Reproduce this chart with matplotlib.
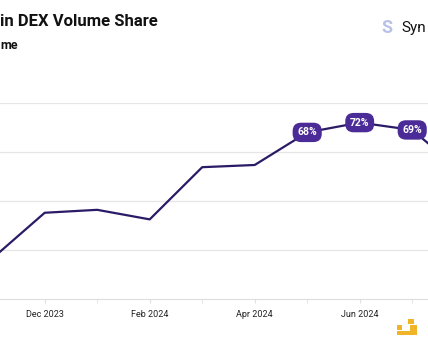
import matplotlib.pyplot as plt
from matplotlib.patches import Rectangle

# 月份與數值 (Nov 2023 - Aug 2024)
months = ['Nov 2023', 'Dec 2023', 'Jan 2024', 'Feb 2024', 'Mar 2024',
          'Apr 2024', 'May 2024', 'Jun 2024', 'Jul 2024', 'Aug 2024']
share = [16.5, 35.2, 36.4, 32.5, 53.8, 54.7, 68, 72, 69, 51]
labelled = ['May 2024', 'Jun 2024', 'Jul 2024']
tick_labels = ['Dec 2023', 'Feb 2024', 'Apr 2024', 'Jun 2024', 'Aug 2024']

plt.rcParams['font.family'] = ['Roboto', 'DejaVu Sans']

W, H = 428, 352
fig = plt.figure(figsize=(W / 100, H / 100), dpi=100)
ax = fig.add_axes([0, (H - 299) / H, 1, (299 - 103) / H])

x = list(range(len(months)))
ax.plot(x, share, color='#2b1b66', lw=1.6, zorder=3)

# 標籤框
for i, m in enumerate(months):
    if m in labelled:
        ax.text(i, share[i], f'{share[i]:.0f}%', ha='center', va='center',
                color='white', fontsize=7.5, fontweight='bold', zorder=4,
                bbox=dict(boxstyle='round,pad=0.45,rounding_size=0.8',
                          fc='#4a2b98', ec='none'))

ax.set_yticks([20, 40, 60, 80])
ax.yaxis.grid(True, color='#e6e6e6', lw=0.9)
ax.set_axisbelow(True)
ax.tick_params(axis='y', length=0, labelleft=False)

ax.set_xticks([months.index(t) for t in tick_labels])
ax.set_xticklabels(tick_labels, fontsize=6.5, color='#222222')
ax.set_xticks([i for i, m in enumerate(months) if m not in tick_labels], minor=True)
ax.tick_params(axis='x', which='both', length=3, color='#e0e0e0', pad=5)

# 設定範圍 (放在 set_xticks 之後)
ax.set_xlim(7.8 / 52.5, (W + 7.8) / 52.5)
ax.set_ylim(0, 80)

for s in ['top', 'right', 'left']:
    ax.spines[s].set_visible(False)
ax.spines['bottom'].set_color('#dddddd')

# 標題
fig.text(0, 1 - 26 / H, 'in DEX Volume Share', fontsize=12, fontweight='bold',
         color='#111111', ha='left', va='baseline')
fig.text(0, 1 - 49 / H, 'me', fontsize=9, fontweight='bold',
         color='#111111', ha='left', va='baseline')

# 右上 logo
fig.text(381 / W, 1 - 33 / H, 'S', fontsize=13, fontweight='bold',
         color='#8a9ad8', alpha=0.6, ha='left', va='baseline')
fig.text(401 / W, 1 - 32 / H, 'Syn', fontsize=11, color='#111111',
         ha='left', va='baseline')

# 右下 logo
for (px, py, pw, ph) in [(397, 325, 5, 5), (408, 319, 6, 5),
                         (410, 325, 7, 10), (397, 331, 20, 4)]:
    fig.add_artist(Rectangle((px / W, 1 - (py + ph) / H), pw / W, ph / H,
                             transform=fig.transFigure, fc='#f0b429', ec='none'))

fig.savefig('out.png', dpi=100)
